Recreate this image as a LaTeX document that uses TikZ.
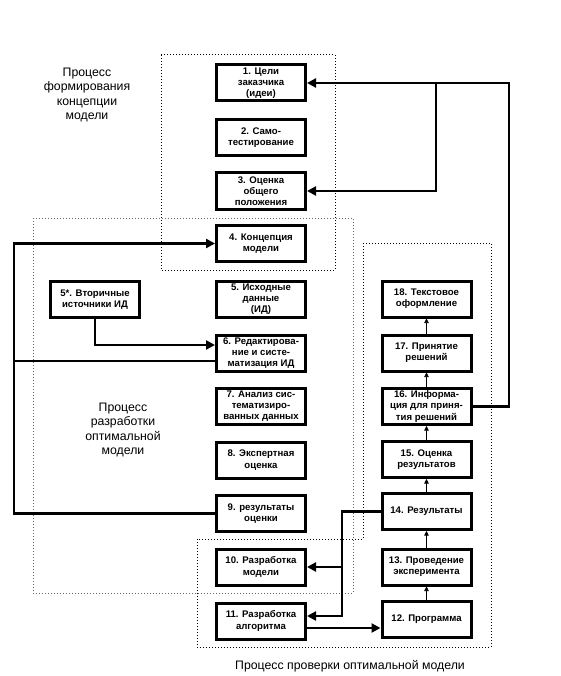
\documentclass[tikz,border=0pt]{standalone}
\usepackage{fontspec}
\setmainfont{Liberation Sans}
\usetikzlibrary{arrows.meta,positioning}

\begin{document}
\begin{tikzpicture}[x=1pt,y=-1pt,
  every node/.style={font=\fontsize{9}{11}\selectfont},
  blk/.style={draw,line width=3pt,minimum width=89pt,minimum height=36pt,
              inner sep=1pt,align=center,font=\fontsize{9.6}{11.2}\selectfont\bfseries},
  flow/.style={-{Triangle[length=9pt,width=9pt]},line width=2.6pt},
  link/.style={line width=2.6pt},
  thinarr/.style={-{Triangle[length=4.5pt,width=4.5pt]},line width=0.6pt},
  frame/.style={dotted,line width=1pt},
  lbl/.style={align=center,font=\fontsize{12.3}{14.5}\selectfont}]
\useasboundingbox (0,0) rectangle (560,676);
\def\colL{261}
\def\colR{426.5}
% frames
\draw[frame] (161,55) rectangle (335,270);
\draw[frame,black!60] (33,218) rectangle (353,593);
\draw[frame] (363,243) -- (491,243) -- (491,647) -- (197,647) -- (197,539) -- (363,539) -- cycle;
\node[lbl] (tA) at (87,95) {Процесс\\формирования\\концепции\\модели};
\node[lbl] (tB) at (123,430) {Процесс\\разработки\\оптимальной\\модели};
\node[lbl] (tC) at (350,666) {Процесс проверки оптимальной модели};
% left column
\node[blk] (b1) at (\colL,83) {1. Цели\\заказчика\\(идеи)};
\node[blk] (b2) at (\colL,137.5) {2. Само-\\тестирование};
\node[blk] (b3) at (\colL,191) {3. Оценка\\общего\\положения};
\node[blk] (b4) at (\colL,243.5) {4. Концепция\\модели};
\node[blk] (b5) at (\colL,299) {5. Исходные\\данные\\(ИД)};
\node[blk] (b6) at (\colL,353) {6. Редактирова-\\ние и систе-\\матизация ИД};
\node[blk] (b7) at (\colL,406) {7. Анализ сис-\\тематизиро-\\ванных данных};
\node[blk] (b8) at (\colL,460) {8. Экспертная\\оценка};
\node[blk] (b9) at (\colL,513.5) {9. результаты\\оценки};
\node[blk] (b10) at (\colL,567) {10. Разработка\\модели};
\node[blk] (b11) at (\colL,621) {11. Разработка\\алгоритма};
\node[blk] (b5s) at (95,299.5) {5*. Вторичные\\источники ИД};
% right column
\node[blk] (b18) at (\colR,299) {18. Текстовое\\оформление};
\node[blk] (b17) at (\colR,353) {17. Принятие\\решений};
\node[blk] (b16) at (\colR,406.5) {16. Информа-\\ция для приня-\\тия решений};
\node[blk] (b15) at (\colR,459.5) {15. Оценка\\результатов};
\node[blk] (b14) at (\colR,511.5) {14. Результаты};
\node[blk] (b13) at (\colR,567) {13. Проведение\\эксперимента};
\node[blk] (b12) at (\colR,619.5) {12. Программа};
\foreach \a/\b in {12/13,13/14,14/15,15/16,16/17,17/18}
  \draw[thinarr] (b\a.north) -- (b\b.south);
% feedback
\coordinate (rt) at (509,83);
\coordinate (br) at (436,83);
\draw[flow] (b16.east) -| (rt) -- (b1.east);
\draw[flow] (br) |- (b3.east);
\coordinate (lf) at (14,243.5);
\draw[flow] (b9.west) -| (lf) -- (b4.west);
\coordinate (b6l) at ([yshift=-8pt]b6.west);
\coordinate (b6u) at ([yshift=8pt]b6.west);
\draw[link] (b6l) -- (b6l -| lf);
\draw[flow] (b5s.south) |- (b6u);
\coordinate (jn) at (342,567);
\draw[flow] (b14.west) -| (jn) -- (b10.east);
\draw[flow] (jn) |- ([yshift=5pt]b11.east);
\coordinate (b11r) at ([yshift=-7pt]b11.east);
\draw[flow] (b11r) -- (b11r -| b12.west);
\end{tikzpicture}
\end{document}
